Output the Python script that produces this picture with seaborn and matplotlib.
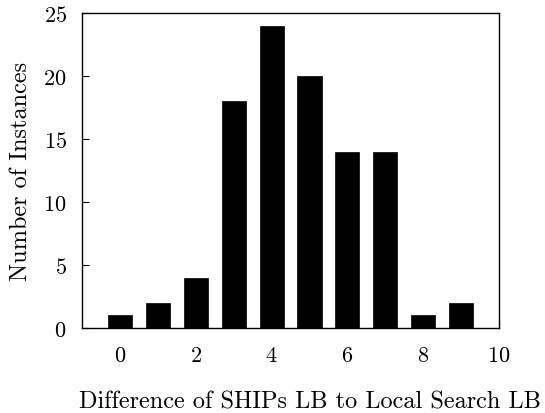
import matplotlib
matplotlib.use("Agg")
import matplotlib.pyplot as plt
import seaborn as sns
import pandas as pd

differences = [0, 1, 2, 3, 4, 5, 6, 7, 8, 9]
instances = [1, 2, 4, 18, 24, 20, 14, 14, 1, 2]
x_ticks = [0, 2, 4, 6, 8, 10]
y_ticks = [0, 5, 10, 15, 20, 25]

sns.set_style("ticks")
plt.rcParams["font.family"] = ["cmr10", "DejaVu Serif"]
plt.rcParams["mathtext.fontset"] = "cm"
plt.rcParams["axes.formatter.use_mathtext"] = True
plt.rcParams["text.color"] = "black"
plt.rcParams["axes.labelcolor"] = "black"
plt.rcParams["xtick.color"] = "black"
plt.rcParams["ytick.color"] = "black"
plt.rcParams["axes.edgecolor"] = "black"

df = pd.DataFrame({"diff": differences, "count": instances})

fig = plt.figure(figsize=(5.45, 4.14), dpi=100)
ax = fig.add_axes([0.1505, 0.2053, 0.7651, 0.7609])
sns.barplot(data=df, x="diff", y="count", native_scale=True, width=0.635,
            color="black", edgecolor="black", linewidth=0.5, ax=ax, zorder=1)
ax.set_xlim(-1.0, 10)
ax.set_ylim(0, 25)
ax.set_xticks(x_ticks)
ax.set_yticks(y_ticks)
ax.tick_params(direction="in", length=5, width=0.8, labelsize=16,
               top=False, right=False)
ax.tick_params(axis="x", pad=12.5)
ax.tick_params(axis="y", pad=11)
for s in ax.spines.values():
    s.set_linewidth(1.0)
    s.set_visible(True)
ax.set_xlabel("Difference of SHIPs LB to Local Search LB", fontsize=17.5, va="center")
ax.set_ylabel("Number of Instances", fontsize=17.5, va="center")
ax.xaxis.set_label_coords(0.547, -0.232)
ax.yaxis.set_label_coords(-0.146, 0.5)
fig.savefig("out.png", dpi=100)
